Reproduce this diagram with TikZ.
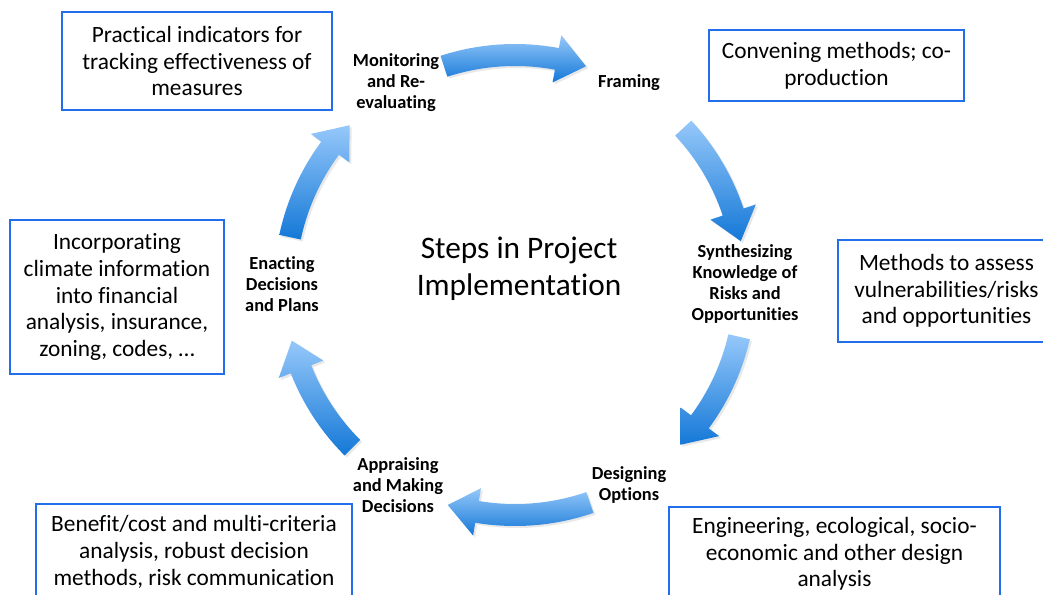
\documentclass[tikz,border=0pt]{standalone}
\usepackage{fontspec}
\setmainfont{Carlito}[Ligatures=NoCommon]
\usetikzlibrary{shadows}
\definecolor{boxblue}{RGB}{35,110,235}
\definecolor{arrowlight}{RGB}{150,200,250}
\definecolor{arrowdark}{RGB}{20,120,215}

\tikzset{
  infobox/.style={draw=boxblue, line width=1.5pt, fill=white, align=center, inner sep=0pt,
    font=\fontsize{17.5}{20}\selectfont},
  steplabel/.style={align=center, font=\bfseries\fontsize{13.8}{15.75}\selectfont},
  arrowshade/.style={top color=arrowlight, bottom color=arrowdark,
    drop shadow={opacity=0.18, shadow xshift=1.5pt, shadow yshift=-1.5pt}}
}

% curved block arrow on the cycle, clockwise from #1 to #2
\newcommand{\cyclearrow}[2]{%
  \pgfmathsetmacro{\headangle}{#2+7.5}
  \path[arrowshade] (#1:241) arc[start angle=#1, end angle=\headangle, radius=241]
    -- (\headangle:254) -- (#2:230) -- (\headangle:206) -- (\headangle:219)
    arc[start angle=\headangle, end angle=#1, radius=219] -- cycle;}

\begin{document}
\begin{tikzpicture}[x=0.75pt, y=0.75pt]
\useasboundingbox (0,0) rectangle (1043,-594);
\coordinate (hub) at (515,-285);
%cycle arrows
\begin{scope}[shift={(hub)}]
\cyclearrow{108}{72}
\cyclearrow{43}{11}
\cyclearrow{-13}{-44}
\cyclearrow{-71}{-107}
\cyclearrow{-135}{-166}
\cyclearrow{168}{136}
\end{scope}
%steps
\node[align=center, font=\fontsize{23.5}{27.75}\selectfont] (steps) at (519,-269) {Steps in Project\\Implementation};
\node[steplabel] (monitor) at (396,-83) {Monitoring\\and Re-\\evaluating};
\node[steplabel] (framing) at (629,-83) {Framing};
\node[steplabel] (synth) at (745,-284) {Synthesizing\\Knowledge of\\Risks and\\Opportunities};
\node[steplabel] (design) at (629,-485) {Designing\\Options};
\node[steplabel] (appraise) at (398,-485) {Appraising\\and Making\\Decisions};
\node[steplabel] (enact) at (282,-284) {Enacting\\Decisions\\and Plans};
%methods
\node[infobox, minimum width=202.5pt, minimum height=73.5pt] (track) at (197,-61)
  {Practical indicators for\\tracking effectiveness of\\measures};
\node[infobox, minimum width=191.25pt, minimum height=53.25pt] (convene) at (836.5,-65.5)
  {Convening methods; co-\\production};
\node[infobox, minimum width=162.75pt, minimum height=76.5pt] (assess) at (946.5,-291)
  {Methods to assess\\vulnerabilities/risks\\and opportunities};
\node[infobox, minimum width=160.5pt, minimum height=115.5pt] (finance) at (117,-297)
  {Incorporating\\climate information\\into financial\\analysis, insurance,\\zoning, codes, \dots};
\node[infobox, minimum width=237pt, minimum height=72pt] (benefit) at (194,-552)
  {Benefit/cost and multi-criteria\\analysis, robust decision\\methods, risk communication};
\node[infobox, minimum width=248.25pt, minimum height=70.5pt] (engineer) at (834.5,-554)
  {Engineering, ecological, socio-\\economic and other design\\analysis};
\end{tikzpicture}
\end{document}
